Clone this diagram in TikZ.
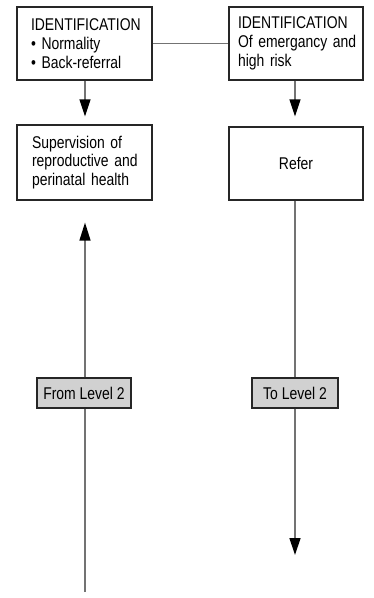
\documentclass[tikz,border=0pt]{standalone}
\usepackage{fontspec}
\setmainfont{Liberation Sans}[FakeStretch=0.82]
\usetikzlibrary{arrows.meta}
\begin{document}
\begin{tikzpicture}[x=1pt,y=-1pt,
  every node/.style={font=\fontsize{17}{18.7}\selectfont},
  infobox/.style={draw=black!85, line width=1.2pt, rectangle, align=left, inner ysep=0pt},
  levelbox/.style={draw=black!85, fill=black!18, line width=1.2pt, rectangle, minimum width=94pt, minimum height=30pt, inner sep=0pt},
  link/.style={draw=black!55, line width=1.3pt},
  arr/.style={link, -{Triangle[length=17pt,width=11pt,black]}}]
  \useasboundingbox (0,0) rectangle (373,598);

  % upper row
  \node[infobox, minimum height=73pt, inner xsep=14pt, text width=107pt] (ident1) at (84.5,43.5)
    {\mbox{IDENTIFICATION}\\ \mbox{\textbullet\ Normality}\\ \mbox{\textbullet\ Back-referral}};
  \node[infobox, minimum height=73pt, inner xsep=9pt, text width=116pt] (ident2) at (296,43.5)
    {\mbox{IDENTIFICATION}\\ \mbox{Of emergancy and}\\ \mbox{high risk}};

  % second row
  \node[infobox, minimum height=75pt, inner xsep=15pt, text width=105pt] (care) at (84.5,162.5)
    {\mbox{Supervision of}\\ \mbox{reproductive and}\\ \mbox{perinatal health}};
  \node[infobox, minimum height=73pt, minimum width=134pt, align=center] (refer) at (296,163.5) {Refer};

  % level markers
  \node[levelbox] (from) at (84,393) {From Level 2};
  \node[levelbox, minimum width=86pt] (to) at (295,393) {To Level 2};

  \coordinate (fromstart) at (85,592);
  \coordinate (toend) at (295,555);

  % connectors
  \draw[link] (ident1.east) -- (ident2.west);
  \draw[arr, shorten >=8pt] (ident1.south -| 85,0) -- (care.north -| 85,0);
  \draw[arr, shorten >=10pt] (ident2.south -| 295,0) -- (refer.north -| 295,0);
  \draw[link] (refer.south -| to.north) -- (to.north);
  \draw[arr] (to.south) -- (toend);
  \draw[link] (fromstart) -- (from.south -| fromstart);
  \draw[arr, shorten >=22pt, -{Triangle[length=18pt,width=11pt,black]}] (from.north -| fromstart) -- (care.south -| fromstart);
\end{tikzpicture}
\end{document}
